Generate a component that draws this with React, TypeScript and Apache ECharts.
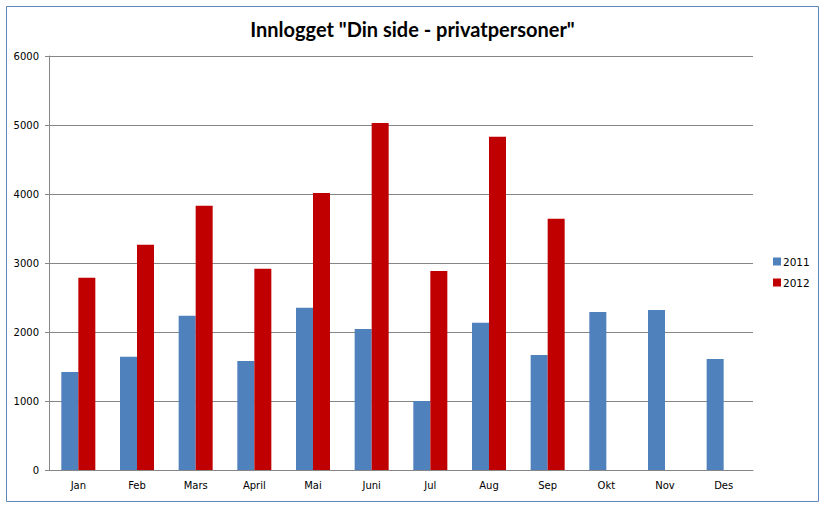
import React, { useEffect, useRef } from "react";
import * as echarts from "echarts";

const categories = ["Jan", "Feb", "Mars", "April", "Mai", "Juni", "Jul", "Aug", "Sep", "Okt", "Nov", "Des"];
const values2011 = [1420, 1640, 2235, 1580, 2350, 2045, 1000, 2135, 1665, 2290, 2320, 1610];
const values2012: (number | null)[] = [2785, 3265, 3830, 2915, 4015, 5030, 2885, 4830, 3640, null, null, null];
const titleText = 'Innlogget "Din side - privatpersoner"';

export default function App() {
  const ref = useRef<HTMLDivElement>(null);
  useEffect(() => {
    if (!ref.current) return;
    const chart = echarts.init(ref.current, null, { renderer: "svg" });
    chart.setOption({
      animation: false,
      backgroundColor: "#ffffff",
      title: {
        text: titleText,
        left: "center",
        top: 14,
        textStyle: { fontFamily: "Lato", fontWeight: "bold", fontSize: 20, color: "#000" },
      },
      graphic: [
        {
          type: "rect",
          shape: { x: 6.5, y: 6.5, width: 812, height: 495 },
          style: { fill: "none", stroke: "#5f86bb", lineWidth: 1 },
          silent: true,
        },
      ],
      legend: {
        orient: "vertical",
        left: 768,
        top: 251,
        itemWidth: 8,
        itemHeight: 8,
        itemGap: 10,
        icon: "rect",
        textStyle: { fontFamily: "DejaVu Sans", fontSize: 10.5, color: "#000", padding: [0, 0, 0, -3] },
        data: ["2011", "2012"],
      },
      grid: { left: 49, top: 56, right: 72, bottom: 36 },
      xAxis: {
        type: "category",
        data: categories,
        axisLine: { lineStyle: { color: "#868686" } },
        axisTick: { show: false },
        axisLabel: { fontFamily: "DejaVu Sans", fontSize: 10, color: "#000", margin: 10 },
      },
      yAxis: {
        type: "value",
        min: 0,
        max: 6000,
        interval: 1000,
        axisLine: { show: true, lineStyle: { color: "#868686" } },
        axisTick: { show: true, length: 4, lineStyle: { color: "#868686" } },
        axisLabel: {
          fontFamily: "DejaVu Sans",
          fontSize: 10,
          color: "#000",
          margin: 10,
          formatter: (v: number) => String(v),
        },
        splitLine: { lineStyle: { color: "#868686" } },
      },
      series: [
        {
          name: "2011",
          type: "bar",
          data: values2011,
          barWidth: 17,
          barGap: "0%",
          itemStyle: { color: "#4f81bd" },
        },
        {
          name: "2012",
          type: "bar",
          data: values2012,
          barWidth: 17,
          barGap: "0%",
          itemStyle: { color: "#c00000" },
        },
      ],
    });
    return () => chart.dispose();
  }, []);
  return <div ref={ref} style={{ position: "fixed", left: 0, top: 0, width: 825, height: 506 }} />;
}
